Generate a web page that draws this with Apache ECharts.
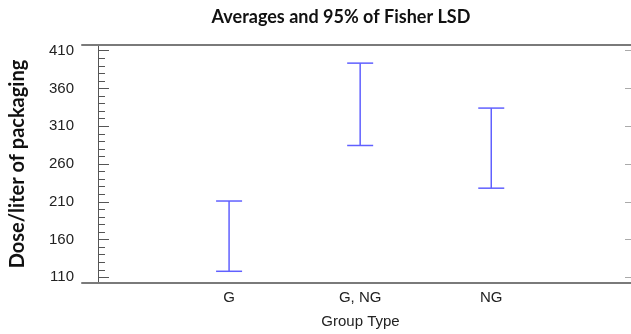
<!DOCTYPE html>
<html>
<head>
<meta charset="utf-8">
<script src="https://cdn.jsdelivr.net/npm/echarts@6/dist/echarts.min.js"></script>
<style>
  html, body { margin: 0; padding: 0; background: #fff; }
  #chart { width: 631px; height: 334px; }
</style>
</head>
<body>
<div id="chart"></div>
<script>
// Group means with 95% Fisher LSD intervals
const groups = ['G', 'G, NG', 'NG'];
const lowerLimits = [118, 284.5, 228];
const upperLimits = [211, 393.5, 334];

// Y axis ticks
const majorTicks = [110, 160, 210, 260, 310, 360, 410];
const minorTicks = [];
for (let v = 110; v <= 410; v += 10) {
  if (!majorTicks.includes(v)) minorTicks.push(v);
}

const yMin = 102.5, yMax = 417.5;
const xMin = -0.122, xMax = 4.066;
const positions = groups.map((g, i) => i + 1);

const intervalData = groups.map((g, i) => [positions[i], lowerLimits[i], upperLimits[i]]);

const chart = echarts.init(document.getElementById('chart'), null, { renderer: 'canvas' });

const frameColor = '#7a7a7a';
const labelFont = { fontFamily: 'Liberation Sans', fontSize: 15, color: '#222' };

chart.setOption({
  animation: false,
  title: {
    text: 'Averages and 95% of Fisher LSD',
    left: 336,
    textAlign: 'center',
    top: 3,
    textStyle: { fontFamily: 'Lato', fontWeight: 'bold', fontSize: 18, color: '#111' }
  },
  grid: { left: 79, right: -4, top: 45, bottom: 49 },
  xAxis: [
    {
      type: 'value', min: xMin, max: xMax, position: 'bottom',
      axisLine: { show: true, lineStyle: { color: frameColor, width: 2 } },
      axisTick: { show: false },
      splitLine: { show: false },
      axisLabel: Object.assign({
        customValues: positions,
        formatter: v => groups[Math.round(v) - 1] || '',
        margin: 7
      }, labelFont),
      name: 'Group Type', nameLocation: 'middle', nameGap: 31,
      nameTextStyle: Object.assign({}, labelFont, { padding: [0, 0, 0, 8] })
    },
    {
      type: 'value', min: xMin, max: xMax, position: 'top',
      axisLine: { show: true, lineStyle: { color: frameColor, width: 2 } },
      axisTick: { show: false }, axisLabel: { show: false }, splitLine: { show: false }
    }
  ],
  yAxis: [
    {
      type: 'value', min: yMin, max: yMax, position: 'left',
      axisLine: { show: true, lineStyle: { color: '#555', width: 1 } },
      axisTick: { show: true, inside: true, length: 11, customValues: majorTicks, lineStyle: { color: '#555' } },
      axisLabel: Object.assign({ customValues: majorTicks, margin: 8 }, labelFont),
      splitLine: { show: false },
      name: 'Dose/liter of packaging', nameLocation: 'middle', nameGap: 54,
      nameTextStyle: { fontFamily: 'Lato', fontWeight: 'bold', fontSize: 20, color: '#111' }
    },
    {
      type: 'value', min: yMin, max: yMax, position: 'left',
      axisLine: { show: false },
      axisTick: { show: true, inside: true, length: 7, customValues: minorTicks, lineStyle: { color: '#555' } },
      axisLabel: { show: false }, splitLine: { show: false }
    },
    {
      type: 'value', min: yMin, max: yMax, position: 'right',
      axisLine: { show: false },
      axisTick: { show: true, inside: true, length: 6, customValues: majorTicks, lineStyle: { color: '#aaa' } },
      axisLabel: { show: false }, splitLine: { show: false }
    }
  ],
  series: [{
    type: 'custom',
    xAxisIndex: 0,
    yAxisIndex: 0,
    data: intervalData,
    encode: { x: 0, y: [1, 2] },
    renderItem: function (params, api) {
      const x = api.value(0);
      const lo = api.coord([x, api.value(1)]);
      const hi = api.coord([x, api.value(2)]);
      const half = 13;
      const style = { stroke: '#6060ff', lineWidth: 1.5 };
      return {
        type: 'group',
        children: [
          { type: 'line', shape: { x1: hi[0], y1: hi[1], x2: lo[0], y2: lo[1] }, style: style },
          { type: 'line', shape: { x1: hi[0] - half, y1: hi[1], x2: hi[0] + half, y2: hi[1] }, style: style },
          { type: 'line', shape: { x1: lo[0] - half, y1: lo[1], x2: lo[0] + half, y2: lo[1] }, style: style }
        ]
      };
    }
  }]
});
</script>
</body>
</html>
